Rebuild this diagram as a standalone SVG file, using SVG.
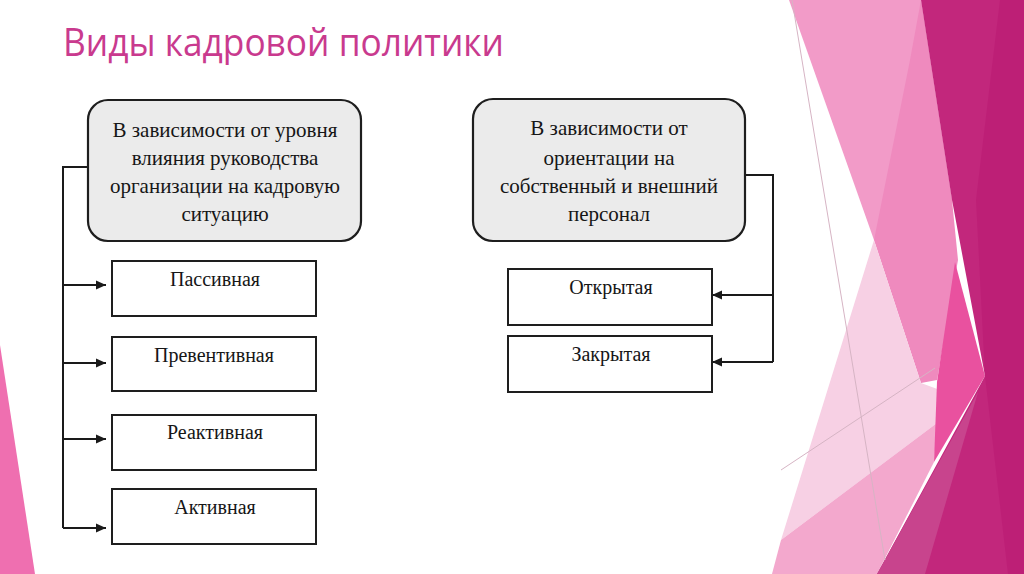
<svg xmlns="http://www.w3.org/2000/svg" width="1024" height="574" viewBox="0 0 1024 574">
<defs>
<marker id="ah" viewBox="0 0 10 10" refX="10" refY="5" markerWidth="11" markerHeight="10" markerUnits="userSpaceOnUse" orient="auto">
<path d="M0,0.5 L10,5 L0,9.5 Z" fill="#1a1a1a"/>
</marker>
<style>
.hdr{fill:#ebebeb;stroke:#1e1e1e;stroke-width:2.2}
.box{fill:#ffffff;stroke:#1e1e1e;stroke-width:2}
.t{font-family:"Liberation Serif","Times New Roman",serif;font-size:21px;fill:#161616;text-anchor:middle}
.b{font-size:20px}
.c{fill:none;stroke:#1a1a1a;stroke-width:2}
.title{font-family:"Open Sans","Noto Sans",sans-serif;font-size:39px;fill:#c93a8e}
</style>
</defs>
<rect width="1024" height="574" fill="#ffffff"/>
<g id="decor">
<polygon points="0,345 0,574 35,574" fill="#ef6fb0"/>
<polygon points="789,0 921,0 952,200 937,380 874,240" fill="#f29bc8"/>
<polygon points="921,0 952,200 958,260 937,380 921,383 874,240 910,60" fill="#ef8abe"/>
<polygon points="874,240 921,383 940,390 937,423 781,540" fill="#f7d0e4"/>
<polygon points="781,540 937,423 934,462 877,574 772,574" fill="#f3a8cd"/>
<polygon points="955,262 985,376 934,462 937,382" fill="#e9519f"/>
<polygon points="921,0 1024,0 1024,574 877,574 985,376 952,200" fill="#c2277c"/>
<polygon points="1000,0 1024,0 1024,574 1008,574 985,376 976,200" fill="#bd1f76"/>
<polygon points="877,574 925,574 978,392" fill="#c8448d"/>
<line x1="792" y1="0" x2="885" y2="560" stroke="#d6b4c4" stroke-width="1"/>
<line x1="781" y1="470" x2="935" y2="368" stroke="#d6b4c4" stroke-width="1"/>
</g>
<text id="title" class="title" x="63" y="56" textLength="441" lengthAdjust="spacingAndGlyphs">Виды кадровой политики</text>
<g id="connectors">
<polyline class="c" points="88,167 63,167 63,528"/>
<line class="c" x1="63" y1="285" x2="106" y2="285" marker-end="url(#ah)"/>
<line class="c" x1="63" y1="363" x2="106" y2="363" marker-end="url(#ah)"/>
<line class="c" x1="63" y1="439" x2="106" y2="439" marker-end="url(#ah)"/>
<line class="c" x1="63" y1="528" x2="106" y2="528" marker-end="url(#ah)"/>
<polyline class="c" points="745,175 773,175 773,362"/>
<line class="c" x1="773" y1="295" x2="712" y2="295" marker-end="url(#ah)"/>
<line class="c" x1="773" y1="362" x2="712" y2="362" marker-end="url(#ah)"/>
</g>
<g id="node-left-header">
<rect class="hdr" x="88" y="100" width="273" height="141" rx="20"/>
<text class="t" x="225" y="137">В зависимости от уровня</text>
<text class="t" x="225" y="165">влияния руководства</text>
<text class="t" x="225" y="193">организации на кадровую</text>
<text class="t" x="225" y="221">ситуацию</text>
</g>
<g id="node-right-header">
<rect class="hdr" x="473" y="99" width="272" height="142" rx="20"/>
<text class="t" x="609" y="135">В зависимости от</text>
<text class="t" x="609" y="165">ориентации на</text>
<text class="t" x="609" y="193">собственный и внешний</text>
<text class="t" x="609" y="221">персонал</text>
</g>
<g id="node-passive">
<rect class="box" x="112" y="261" width="204" height="55"/>
<text class="t b" x="215" y="286">Пассивная</text>
</g>
<g id="node-preventive">
<rect class="box" x="112" y="337" width="204" height="54"/>
<text class="t b" x="214" y="362">Превентивная</text>
</g>
<g id="node-reactive">
<rect class="box" x="112" y="415" width="204" height="55"/>
<text class="t b" x="215" y="439">Реактивная</text>
</g>
<g id="node-active">
<rect class="box" x="112" y="489" width="204" height="55"/>
<text class="t b" x="215" y="514">Активная</text>
</g>
<g id="node-open">
<rect class="box" x="508" y="269" width="204" height="56"/>
<text class="t b" x="611" y="294">Открытая</text>
</g>
<g id="node-closed">
<rect class="box" x="508" y="336" width="204" height="56"/>
<text class="t b" x="611" y="361">Закрытая</text>
</g>
</svg>
